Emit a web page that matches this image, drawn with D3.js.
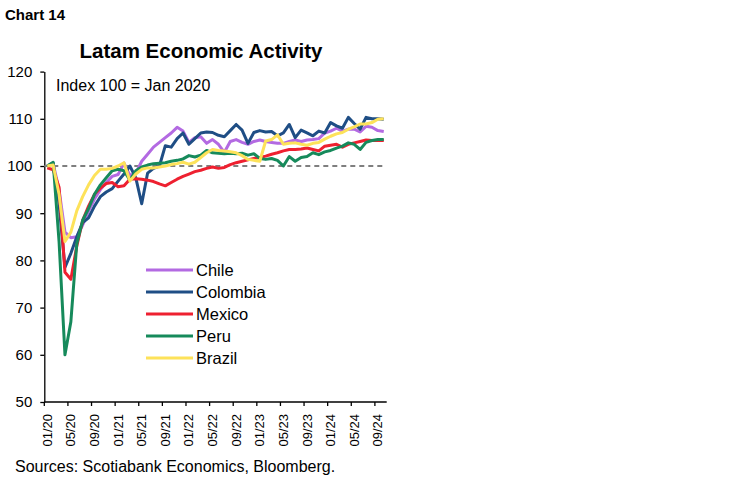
<!DOCTYPE html>
<html>
<head>
<meta charset="utf-8">
<script src="https://cdn.jsdelivr.net/npm/d3@7"></script>
<style>
  body { margin: 0; background: #fff; }
  svg { font-family: "Liberation Sans", Arial, sans-serif; }
  .axis path, .axis line { stroke: #000; stroke-width: 1.3px; }
</style>
</head>
<body>
<svg id="chart" width="749" height="482"></svg>
<script>
// monthly categories, 01/20 .. 10/24
const months = d3.timeMonths(new Date(2020, 0, 1), new Date(2024, 10, 1));
const yTicks = [50, 60, 70, 80, 90, 100, 110, 120];
const seriesNames = ['Chile', 'Colombia', 'Mexico', 'Peru', 'Brazil'];
const seriesColors = ['#b36ae2', '#1f4e85', '#ee2030', '#168a5b', '#fde25a'];

// index 100 = Jan 2020
const chile = [100, 100.5, 95, 86, 84.8, 85, 87.5, 90.5, 93, 95, 96.5, 97.8,
  98.2, 100.6, 98, 98.5, 101, 102.5, 104, 105, 106, 107, 108.2, 107.4,
  105, 106, 106.2, 104.8, 105.6, 104.6, 102.9, 105.2, 105.6, 105, 104.6, 105.2,
  105.5, 105.2, 105, 104.8, 104.8, 105.2, 105.5, 105.2, 105.5, 105.6, 105.8, 107,
  107.4, 108, 107.4, 107.8, 107.8, 107.2, 108.4, 108.2, 107.5, 107.3];
const colombia = [100, 100.6, 92, 78.5, 81.5, 85, 88, 89, 91.5, 93.5, 94.5, 95.2,
  96.8, 98.3, 100, 97.5, 92, 98.5, 99.5, 100, 104.3, 104, 105.8, 107,
  104.6, 105.8, 107, 107.2, 107.1, 106.5, 106.2, 107.5, 108.8, 107.6, 104.8, 107.1,
  107.5, 107.2, 107.3, 106.4, 107, 108.8, 106, 107.6, 107, 106.4, 107.4, 107,
  109.2, 108.5, 108, 110.3, 109, 107.8, 110.3, 110, 110, 109.9];
const mexico = [99.6, 99.2, 95.5, 77.5, 76, 83, 88.5, 91.5, 94, 95.3, 96.3, 96.5,
  95.6, 95.8, 97.2, 97.3, 97.2, 97, 96.7, 96.2, 95.8, 96.5, 97.2, 97.8,
  98.3, 98.8, 99.1, 99.5, 99.8, 99.5, 99.7, 100.3, 100.7, 101, 101.3, 101.6,
  101.8, 102.1, 102.5, 102.8, 103.2, 103.5, 103.5, 103.6, 103.8, 103.5, 103.2, 104.2,
  104.4, 104.6, 104, 104.6, 104.9, 105.2, 105.5, 105.4, 105.4, 105.4];
const peru = [100, 100.8, 84, 60, 67, 83.5, 88.5, 91, 94, 96, 97.5, 99,
  99.3, 99, 97, 99, 99.8, 100.2, 100.5, 100.6, 100.7, 101, 101.2, 101.5,
  102.2, 101.9, 102.3, 103.3, 102.8, 102.7, 102.6, 102.7, 102.6, 102.7, 102.3, 102.6,
  101.6, 101.4, 101.6, 101.2, 100, 102, 101, 101.8, 102, 102.8, 102.4, 103,
  103.3, 103.8, 104.2, 104.9, 104.6, 103.5, 105, 105.4, 105.6, 105.6];
const brazil = [100, 100.2, 94, 84, 86, 90.5, 93.5, 96, 98, 99.3, 99.3, 99.5,
  100, 100.7, 96.8, 98.3, 99.3, 99.6, 99.6, 99.8, 100, 100.3, 100.5, 100.8,
  100.4, 100.8, 101.8, 102.8, 103.5, 103.3, 103.2, 103, 102.8, 102.2, 101.4, 101.2,
  101, 105.3, 105.6, 106.6, 104.6, 104.8, 104.9, 104.6, 104.4, 104.8, 105, 105.7,
  106.3, 106.8, 107.1, 107.8, 108.3, 108.9, 108.9, 109.2, 109.9, 110];
const seriesValues = [chile, colombia, mexico, peru, brazil];

let latamChart = function(){

    this._selection = null;
    this._size = null;
    this._margin = null;
    let canvas = null;

    this.selection = function(){
        if (arguments.length > 0){
            this._selection = arguments[0];
            return this;
        } else return this._selection;
    }

    this.size = function(){
        if (arguments.length > 0){
            this._size = arguments[0];
            return this;
        } else return this._size;
    }

    this.margin = function(){
        if (arguments.length > 0){
            this._margin = arguments[0];
            return this;
        } else return this._margin;
    }

    this.draw = function(){
        let svg = this._selection;
        let m = this._margin;
        canvas = svg.append('g');

        let xScale = d3.scaleBand()
            .domain(months)
            .range([m.l, this._size.w - m.r])
            .padding(0);
        let half = xScale.bandwidth() / 2;
        let cx = d => xScale(d) + half;

        let yScale = d3.scaleLinear()
            .domain([50, 120])
            .range([this._size.h - m.b, m.t]);

        // headings
        svg.append('text')
            .attr('x', 5).attr('y', 20)
            .style('font-size', '15px').style('font-weight', 700)
            .text('Chart 14');
        svg.append('text')
            .attr('x', 201).attr('y', 58)
            .attr('text-anchor', 'middle')
            .style('font-size', '20.5px').style('font-weight', 700)
            .text('Latam Economic Activity');
        svg.append('text')
            .attr('x', 56).attr('y', 91)
            .style('font-size', '16px')
            .text('Index 100 = Jan 2020');
        svg.append('text')
            .attr('x', 15).attr('y', 472)
            .style('font-size', '16px')
            .text('Sources: Scotiabank Economics, Bloomberg.');

        // y axis
        let yAxis = d3.axisLeft(yScale)
            .tickValues(yTicks)
            .tickSize(4)
            .tickSizeOuter(0)
            .tickPadding(8);
        canvas.append('g')
            .classed('axis', true)
            .attr('transform', `translate(${m.l}, 0)`)
            .call(yAxis)
            .call(g => g.selectAll('text').style('font-size', '15px').attr('fill', '#000'));

        // x axis: ticks at band edges, labels every 4 months at band centres
        let labelled = months.filter((d, i) => i % 4 === 0);
        let fmt = d3.timeFormat('%m/%y');
        let xAxis = d3.axisBottom(xScale)
            .tickValues(labelled)
            .tickSize(4)
            .tickSizeOuter(0)
            .tickFormat('');
        let xg = canvas.append('g')
            .classed('axis', true)
            .attr('transform', `translate(${-half}, ${yScale(50)})`)
            .call(xAxis);
        xg.select('.domain').attr('d', `M${m.l + half},0H${this._size.w - m.r + half}`);

        canvas.selectAll('.xLabel')
            .data(labelled)
            .join('text')
            .classed('xLabel', true)
            .attr('transform', d => `translate(${cx(d)}, ${yScale(50) + 12}) rotate(-90)`)
            .attr('text-anchor', 'end')
            .attr('dominant-baseline', 'central')
            .style('font-size', '13px')
            .text(d => fmt(d));

        // reference line at 100
        canvas.append('line')
            .attr('x1', m.l).attr('x2', cx(months[months.length - 1]))
            .attr('y1', yScale(100)).attr('y2', yScale(100))
            .attr('stroke', '#7f7f7f')
            .attr('stroke-width', 2)
            .attr('stroke-dasharray', '5,4');

        let line = d3.line()
            .x((d, i) => cx(months[i]))
            .y(d => yScale(d));

        canvas.selectAll('.series')
            .data(seriesValues)
            .join('path')
            .classed('series', true)
            .attr('fill', 'none')
            .attr('stroke', (d, i) => seriesColors[i])
            .attr('stroke-width', 3)
            .attr('stroke-linejoin', 'round')
            .attr('d', d => line(d));

        this.drawLegend();
    }

    this.drawLegend = function(){
        let legend = canvas.selectAll('.legendItem')
            .data(seriesNames)
            .join('g')
            .classed('legendItem', true)
            .attr('transform', (d, i) => `translate(146, ${270 + i * 22})`);
        legend.append('line')
            .attr('x1', 0).attr('x2', 47)
            .attr('stroke', (d, i) => seriesColors[i])
            .attr('stroke-width', 3);
        legend.append('text')
            .attr('x', 50)
            .attr('dy', '0.35em')
            .style('font-size', '16.5px')
            .text(d => d);
    }
}

new latamChart()
    .selection(d3.select('#chart'))
    .size({w: 749, h: 482})
    .margin({l: 44.3, r: 362.3, t: 71.6, b: 80})
    .draw();
</script>
</body>
</html>
